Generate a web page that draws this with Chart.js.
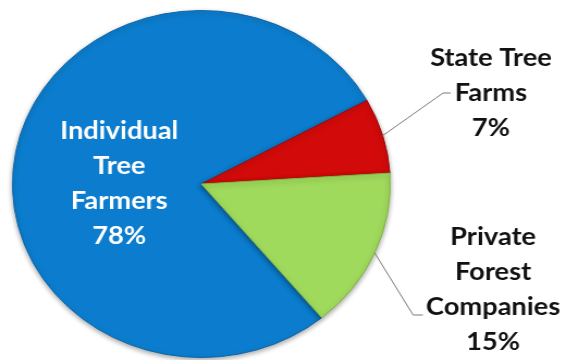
<!DOCTYPE html>
<html>
<head>
<meta charset="utf-8">
<script src="https://cdn.jsdelivr.net/npm/chart.js@4/dist/chart.umd.min.js"></script>
<style>
  html, body { margin: 0; padding: 0; background: #fff; }
  #wrap { width: 567px; height: 360px; overflow: hidden; position: relative; }
  /* the pie is drawn slightly wider than tall */
  #c { position: absolute; left: 0; top: 0; transform: scaleX(1.0885); transform-origin: 0 0; }
</style>
</head>
<body>
<div id="wrap"><canvas id="c" width="521" height="360"></canvas></div>
<script>
// Ownership of tree farm land
const categories = ['Individual Tree Farmers', 'State Tree Farms', 'Private Forest Companies'];
const shares = [78, 7, 15];
const labelLines = [
  ['Individual', 'Tree', 'Farmers', '78%'],
  ['State Tree', 'Farms', '7%'],
  ['Private', 'Forest', 'Companies', '15%']
];
const sliceColors = ['#0C7DCE', '#D20A0A', '#A0DA5C'];
const edgeColors = ['#0A66A8', '#9E0606', '#7DB63E'];

const FONT = 'bold 25px Lato, "Open Sans", sans-serif';
const LINE_H = 35;

// soft drop shadow beneath the slices
const shadowPlugin = {
  id: 'pieShadow',
  beforeDatasetsDraw(chart) {
    const ctx = chart.ctx;
    ctx.save();
    ctx.shadowColor = 'rgba(0,0,0,0.35)';
    ctx.shadowBlur = 5;
    ctx.shadowOffsetX = 0;
    ctx.shadowOffsetY = 2;
  },
  afterDatasetsDraw(chart) {
    chart.ctx.restore();
  }
};

// slice labels and leader lines
const labelPlugin = {
  id: 'sliceLabels',
  afterDatasetsDraw(chart) {
    const ctx = chart.ctx;
    const arcs = chart.getDatasetMeta(0).data;
    const a0 = arcs[0];
    const cx = a0.x, cy = a0.y, r = a0.outerRadius;

    ctx.save();
    ctx.font = FONT;
    ctx.textAlign = 'center';
    ctx.textBaseline = 'middle';

    // label inside the large slice
    ctx.fillStyle = '#ffffff';
    const inner = labelLines[0];
    const ix = cx - 0.435 * r;
    const iy0 = cy - 53;
    inner.forEach((t, i) => ctx.fillText(t, ix, iy0 + i * LINE_H));

    // outside labels
    const outside = [
      { idx: 1, x: 451, y0: 58, elbow: [407, 93], end: [414, 93] },
      { idx: 2, x: 453, y0: 237, elbow: [379.5, 315], end: [388.5, 315] }
    ];
    outside.forEach(o => {
      const arc = arcs[o.idx];
      const mid = (arc.startAngle + arc.endAngle) / 2;
      const sx = cx + Math.cos(mid) * r;
      const sy = cy + Math.sin(mid) * r;
      ctx.strokeStyle = '#7a7a7a';
      ctx.lineWidth = 1;
      ctx.beginPath();
      ctx.moveTo(sx, sy);
      ctx.lineTo(o.elbow[0], o.elbow[1]);
      ctx.lineTo(o.end[0], o.end[1]);
      ctx.stroke();

      ctx.fillStyle = '#111111';
      labelLines[o.idx].forEach((t, i) => ctx.fillText(t, o.x, o.y0 + i * LINE_H));
    });
    ctx.restore();
  }
};

new Chart(document.getElementById('c'), {
  type: 'pie',
  data: {
    labels: categories,
    datasets: [{
      data: shares,
      backgroundColor: sliceColors,
      borderColor: edgeColors,
      borderWidth: 1
    }]
  },
  options: {
    responsive: false,
    animation: false,
    rotation: 140.4,
    layout: { padding: { left: 11, right: 162, top: 10, bottom: 2 } },
    plugins: {
      legend: { display: false },
      tooltip: { enabled: false }
    }
  },
  plugins: [shadowPlugin, labelPlugin]
});
</script>
</body>
</html>
